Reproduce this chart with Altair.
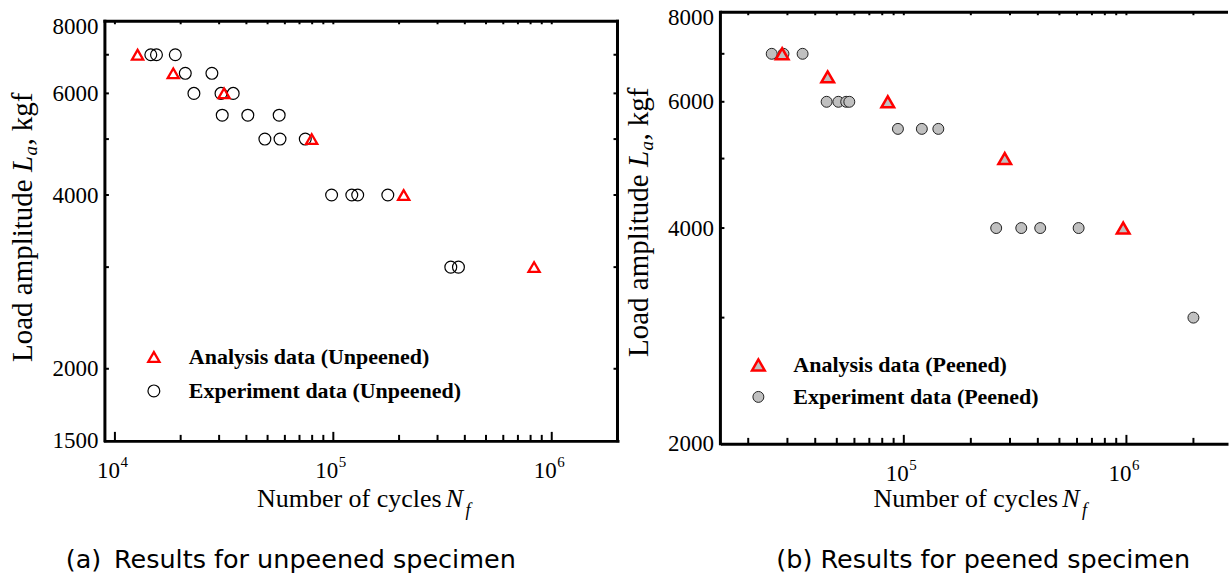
import altair as alt
import pandas as pd

# ---------------- data ----------------
names_a = ["Analysis data (Unpeened)", "Experiment data (Unpeened)"]
names_b = ["Analysis data (Peened)", "Experiment data (Peened)"]

unpeened_analysis_cycles = [12700, 18500, 31600, 79600, 210000, 830000]
unpeened_analysis_load = [7000, 6500, 6000, 5000, 4000, 3000]

unpeened_exp_cycles = [14600, 15500, 18900, 21000, 27800, 23000, 30600, 34800,
                       31000, 40600, 56500, 48600, 57000, 74400, 98200, 121500,
                       129300, 177600, 345000, 374000]
unpeened_exp_load = [7000, 7000, 7000, 6500, 6500, 6000, 6000, 6000,
                     5500, 5500, 5500, 5000, 5000, 5000, 4000, 4000,
                     4000, 4000, 3000, 3000]

peened_analysis_cycles = [28400, 45500, 84700, 284000, 967000]
peened_analysis_load = [7000, 6500, 6000, 5000, 4000]

peened_exp_cycles = [25500, 28800, 35100, 45000, 50800, 55100, 56900, 94100,
                     120500, 142900, 260000, 337000, 410000, 610000, 2000000]
peened_exp_load = [7000, 7000, 7000, 6000, 6000, 6000, 6000, 5500,
                   5500, 5500, 4000, 4000, 4000, 4000, 3000]

# axis ticks / labels
x_major_a = [10000, 100000, 1000000]
x_exp_a = ["4", "5", "6"]
x_minor_a = [20000, 30000, 40000, 50000, 60000, 70000, 80000, 90000,
             200000, 300000, 400000, 500000, 600000, 700000, 800000, 900000]
x_major_b = [100000, 1000000]
x_exp_b = ["5", "6"]
x_minor_b = [20000, 30000, 40000, 50000, 60000, 70000, 80000, 90000,
             200000, 300000, 400000, 500000, 600000, 700000, 800000, 900000,
             2000000]
y_labels_a = [1500, 2000, 4000, 6000, 8000]
y_labels_b = [2000, 4000, 6000, 8000]
y_ticks_a = [2000, 3000, 4000, 5000, 6000, 7000]
y_ticks_b = [3000, 4000, 5000, 6000, 7000]

SERIF = "Liberation Serif"
SANS = "DejaVu Sans"
GRAY = "#c0c0c0"
ONE = pd.DataFrame({"k": [0]})


def txt(text, x, y, size, angle=0, align="left", style="normal",
        font=SERIF, weight="normal"):
    return alt.Chart(ONE).mark_text(
        text=text, align=align, baseline="alphabetic", fontSize=size,
        font=font, fontStyle=style, fontWeight=weight, angle=angle,
        color="black").encode(x=alt.value(x), y=alt.value(y))


def panel(names, ana_n, ana_l, exp_n, exp_l, xdom, ydom, frame_lo, frame_hi,
          W, H, x_major, x_exp, x_minor, y_ticks, y_labels, filled, strokes,
          sizes, widths, leg_x, leg_y, leg_off, row_pad,
          yt, xt, caption, cap_x, cap_y, right_frame):
    df = pd.DataFrame({
        "N": exp_n + ana_n,
        "L": exp_l + ana_l,
        "series": [names[1]] * len(exp_n) + [names[0]] * len(ana_n),
    })
    xs = alt.Scale(type="log", domain=xdom, nice=False)
    ys = alt.Scale(type="log", domain=ydom, nice=False)
    xaxis = alt.Axis(
        values=x_major, labels=False, ticks=False, grid=False,
        domainColor="black", domainWidth=3,
        domainCap="square" if right_frame else "butt", title=None)
    yaxis = alt.Axis(
        values=y_labels, format="d", ticks=False, grid=False, domain=False,
        labelFont=SERIF, labelFontSize=23, labelColor="black",
        labelPadding=7, title=None, labelOverlap=False, labelFlush=False,
        labelOffset={"condition": {"test": "datum.value == 8000", "value": 5},
                     "value": 0})
    leg = alt.Legend(orient="none", legendX=leg_x, legendY=leg_y, title=None,
                     labelFont=SERIF, labelFontWeight="bold", labelFontSize=22,
                     labelColor="black", labelOffset=leg_off,
                     rowPadding=row_pad, padding=0, labelLimit=0,
                     symbolOpacity=1)
    X = lambda f: alt.X(f, scale=xs, axis=xaxis)
    Y = lambda f: alt.Y(f, scale=ys, axis=yaxis)
    Yd = lambda v: alt.YDatum(v, scale=ys, axis=yaxis, type="quantitative")

    enc = dict(
        x=X("N:Q"), y=Y("L:Q"),
        shape=alt.Shape("series:N", scale=alt.Scale(domain=names, range=["triangle-up", "circle"]), legend=leg),
        stroke=alt.Stroke("series:N", scale=alt.Scale(domain=names, range=strokes), legend=leg),
        size=alt.Size("series:N", scale=alt.Scale(domain=names, range=sizes), legend=leg),
        strokeWidth=alt.StrokeWidth("series:N", scale=alt.Scale(domain=names, range=widths), legend=leg),
    )
    if filled:
        pts = alt.Chart(df).mark_point(filled=True, fill=GRAY, opacity=1).encode(**enc)
    else:
        pts = alt.Chart(df).mark_point(filled=False, opacity=1).encode(**enc)

    def xrules(vals, top, length):
        d = pd.DataFrame({"v": vals})
        if top:
            return alt.Chart(d).mark_rule(color="black", strokeWidth=2, y2Offset=length).encode(
                x=X("v:Q"), y=Yd(frame_hi), y2=alt.Y2Datum(frame_hi))
        return alt.Chart(d).mark_rule(color="black", strokeWidth=2).encode(
            x=X("v:Q"), y=alt.value(H), y2=alt.value(H - length))

    def yrules(vals, x0, x1):
        d = pd.DataFrame({"v": vals})
        return alt.Chart(d).mark_rule(color="black", strokeWidth=2).encode(
            y=Y("v:Q"), x=alt.value(x0), x2=alt.value(x1))

    labs = pd.DataFrame({"v": x_major, "e": x_exp})
    layers = [
        xrules(x_major, False, 9),
        xrules(x_minor, False, 6),
        xrules(x_major + x_minor, True, 3),
        yrules(y_ticks, 0, 4),
        # top frame line
        alt.Chart(ONE).mark_rule(color="black", strokeWidth=3,
                                 strokeCap="square" if right_frame else "butt").encode(
            x=alt.value(0), x2=alt.value(W), y=Yd(frame_hi)),
        # left axis line
        alt.Chart(ONE).mark_rule(color="black", strokeWidth=3, strokeCap="square").encode(
            x=alt.value(0), y=Yd(frame_lo), y2=alt.Y2Datum(frame_hi)),
        # decade labels 10^n
        alt.Chart(labs).mark_text(text="10", font=SERIF, fontSize=23, align="right",
                                  baseline="alphabetic", dx=5, color="black").encode(
            x=X("v:Q"), y=alt.value(H + 37)),
        alt.Chart(labs).mark_text(font=SERIF, fontSize=15, align="left",
                                  baseline="alphabetic", dx=5.5, color="black").encode(
            x=X("v:Q"), y=alt.value(H + 26.5), text="e:N"),
    ]
    if right_frame:
        layers.append(yrules(y_ticks, W, W - 4))
        layers.append(alt.Chart(ONE).mark_rule(color="black", strokeWidth=3,
                      strokeCap="square").encode(
            x=alt.value(W), y=Yd(frame_lo), y2=alt.Y2Datum(frame_hi)))
    layers.append(pts)
    # axis titles (with italic symbols and subscripts)
    bx, y_main, y_L, y_a, y_c = yt
    layers += [
        txt("Load amplitude", bx, y_main, 29, angle=270),
        txt("L", bx, y_L, 29, angle=270, style="italic"),
        txt("a", bx + 5, y_a, 19, angle=270, style="italic"),
        txt(", kgf", bx, y_c, 29, angle=270),
    ]
    x_end, x_N, x_f, by = xt
    layers += [
        txt("Number of cycles", x_end, by, 26, align="right"),
        txt("N", x_N, by, 26, style="italic"),
        txt("f", x_f, by + 9, 18, style="italic"),
        txt(caption, cap_x, cap_y, 25.5, align="center", font=SANS),
    ]
    return alt.layer(*layers).properties(width=W, height=H)


# left panel: plot area starts 9 px above the 8000 line so that both panels
# share the same top edge in the concatenation
left = panel(names_a, unpeened_analysis_cycles, unpeened_analysis_load,
             unpeened_exp_cycles, unpeened_exp_load,
             [9000, 2000000], [1500, 8294], 1500, 8000, 513, 429,
             x_major_a, x_exp_a, x_minor_a, y_ticks_a, y_labels_a,
             False, ["red", "black"], [125, 140], [2.3, 1.2],
             38, 334, 24, 12,
             (-72.5, 350, 160, 143.5, 133.5), (337, 341, 361, 495.5),
             "(a)\u2002Results for unpeened specimen", 186, 556.5, True)

right = panel(names_b, peened_analysis_cycles, peened_analysis_load,
              peened_exp_cycles, peened_exp_load,
              [15000, 2860000], [2000, 8000], 2000, 8000, 508, 432,
              x_major_b, x_exp_b, x_minor_b, y_ticks_b, y_labels_b,
              True, ["red", "#222222"], [160, 120], [2.5, 1.0],
              27, 342, 24, 10,
              (-72, 345, 155, 138.5, 128.5), (338, 342, 362, 495.5),
              "(b) Results for peened specimen", 263, 556.5, False)

chart = alt.hconcat(
    left, right, spacing=103, bounds="flush"
).resolve_scale(
    shape="independent", stroke="independent", size="independent",
    strokeWidth="independent"
).resolve_legend(
    shape="independent", stroke="independent", size="independent",
    strokeWidth="independent"
).properties(
    padding={"left": 9, "top": 6, "right": 0, "bottom": 0},
    background="white"
).configure_view(strokeWidth=0, stroke="transparent")

chart.save("out.html", embed_options={"renderer": "svg", "actions": False})
